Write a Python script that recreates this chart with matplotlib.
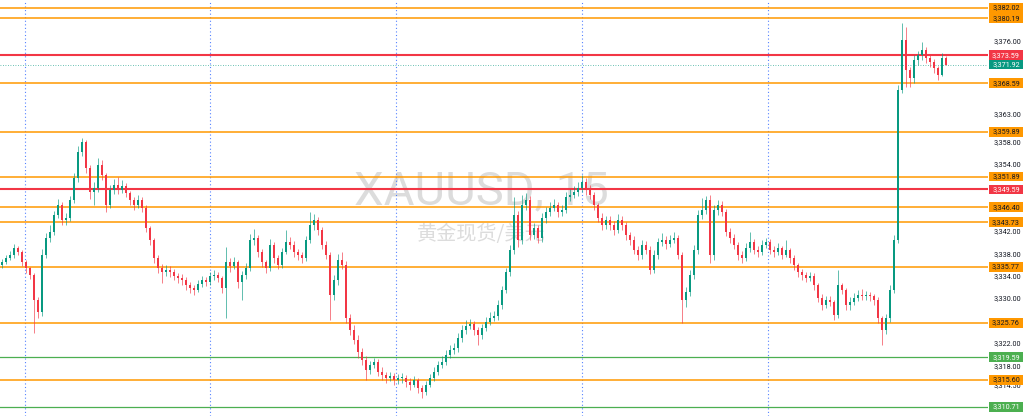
import matplotlib

matplotlib.use("Agg")
import matplotlib.pyplot as plt
import numpy as np
from matplotlib.patches import Rectangle

plt.rcParams["font.family"] = ["Roboto", "Noto Sans CJK SC", "DejaVu Sans"]

# 15-minute candles (opens follow the previous close)
first_open = 3336.1
closes = [
    3336.6, 3337.3, 3337.9, 3339.1, 3338.4, 3336.6, 3335.5, 3334.3, 3329.8, 3327.7,
    3337.9, 3340.9, 3342.0, 3345.0, 3346.8, 3344.1, 3344.5, 3347.7, 3351.6, 3356.3,
    3358.1, 3353.4, 3349.1, 3349.8, 3354.0, 3352.2, 3346.8, 3349.5, 3350.4, 3349.5,
    3350.2, 3348.9, 3347.7, 3346.8, 3347.7, 3346.3, 3342.7, 3340.6, 3337.3, 3335.5,
    3334.8, 3335.2, 3334.8, 3334.1, 3333.8, 3333.4, 3332.5, 3332.0, 3331.6, 3332.7,
    3333.4, 3333.1, 3334.1, 3334.3, 3333.8, 3332.0, 3336.6, 3335.9, 3336.6, 3333.1,
    3334.3, 3335.5, 3340.6, 3340.9, 3338.4, 3336.6, 3335.5, 3339.7, 3337.3, 3336.1,
    3338.4, 3340.2, 3339.7, 3338.4, 3337.9, 3337.3, 3340.6, 3343.2, 3344.1, 3342.3,
    3339.7, 3337.9, 3330.7, 3333.4, 3337.0, 3336.1, 3326.6, 3324.5, 3322.7, 3320.5,
    3319.1, 3317.3, 3318.2, 3318.7, 3317.0, 3316.4, 3315.9, 3316.3, 3315.5, 3315.9,
    3315.9, 3315.2, 3314.6, 3315.5, 3314.1, 3313.4, 3314.6, 3315.9, 3317.0, 3318.2,
    3318.7, 3320.0, 3320.9, 3321.2, 3323.0, 3324.5, 3325.2, 3325.5, 3324.5, 3323.6,
    3324.8, 3325.9, 3326.6, 3327.0, 3328.9, 3331.6, 3334.8, 3338.8, 3345.0, 3340.6,
    3346.8, 3347.7, 3341.4, 3342.7, 3340.9, 3344.5, 3345.6, 3346.3, 3346.8, 3345.6,
    3345.9, 3348.2, 3348.6, 3349.1, 3349.8, 3350.9, 3349.5, 3348.6, 3346.8, 3344.5,
    3343.2, 3344.1, 3343.2, 3342.3, 3344.1, 3343.2, 3341.4, 3340.6, 3338.8, 3337.9,
    3339.7, 3338.8, 3335.2, 3337.9, 3340.2, 3340.6, 3339.8, 3340.6, 3340.9, 3337.9,
    3329.8, 3331.3, 3334.3, 3338.8, 3345.0, 3345.9, 3347.7, 3337.9, 3345.9, 3346.8,
    3345.6, 3342.0, 3340.9, 3339.7, 3337.9, 3337.3, 3339.1, 3340.2, 3338.8, 3338.4,
    3339.7, 3340.2, 3338.8, 3338.4, 3339.1, 3337.9, 3338.8, 3337.3, 3336.1, 3334.8,
    3334.3, 3333.8, 3334.1, 3332.5, 3330.2, 3328.9, 3329.8, 3329.5, 3327.2, 3332.5,
    3331.6, 3328.9, 3329.5, 3330.2, 3330.7, 3330.5, 3330.7, 3330.5, 3329.8, 3326.6,
    3324.5, 3326.6, 3331.6, 3340.6, 3367.4, 3376.3, 3370.9, 3369.5, 3372.7, 3373.6,
    3374.5, 3373.1, 3372.4, 3371.3, 3370.1, 3373.1, 3371.9,
]
highs = [
    3337.2, 3337.9, 3338.6, 3339.9, 3339.5, 3338.7, 3337.0, 3335.8, 3334.6, 3330.3,
    3339.0, 3341.8, 3343.2, 3345.8, 3347.9, 3347.4, 3345.4, 3348.5, 3352.6, 3357.3,
    3358.8, 3358.4, 3354.0, 3351.0, 3355.3, 3354.8, 3352.6, 3350.4, 3351.5, 3351.8,
    3351.3, 3350.8, 3349.3, 3348.3, 3348.6, 3348.2, 3346.8, 3343.1, 3341.0, 3337.9,
    3336.3, 3336.0, 3335.9, 3335.3, 3334.7, 3334.5, 3333.9, 3333.0, 3332.6, 3333.4,
    3334.2, 3334.0, 3334.9, 3335.2, 3334.8, 3334.1, 3339.3, 3337.4, 3337.6, 3336.9,
    3335.0, 3336.4, 3341.6, 3342.5, 3341.4, 3338.9, 3336.9, 3340.8, 3340.2, 3337.8,
    3339.2, 3342.3, 3341.1, 3340.3, 3338.9, 3338.5, 3341.3, 3345.6, 3345.2, 3344.7,
    3342.8, 3340.3, 3338.5, 3334.3, 3338.0, 3338.4, 3336.8, 3327.4, 3325.4, 3323.5,
    3321.3, 3319.9, 3318.9, 3319.4, 3319.2, 3317.8, 3317.0, 3317.0, 3316.8, 3316.6,
    3316.7, 3316.5, 3315.9, 3316.3, 3315.9, 3314.6, 3315.4, 3316.6, 3317.8, 3319.0,
    3319.8, 3320.9, 3321.8, 3322.2, 3323.9, 3325.4, 3326.2, 3326.5, 3326.0, 3325.0,
    3325.6, 3326.8, 3327.6, 3327.9, 3329.8, 3332.4, 3335.6, 3339.6, 3348.2, 3345.7,
    3348.6, 3349.0, 3348.5, 3343.6, 3343.3, 3345.4, 3346.4, 3347.3, 3347.9, 3347.3,
    3346.9, 3349.1, 3349.7, 3350.2, 3351.0, 3352.2, 3351.6, 3350.3, 3349.2, 3347.2,
    3345.3, 3344.9, 3344.8, 3343.9, 3345.2, 3344.9, 3343.8, 3342.0, 3341.2, 3339.4,
    3340.6, 3340.4, 3339.4, 3338.8, 3341.0, 3341.8, 3341.2, 3341.5, 3342.0, 3341.4,
    3338.4, 3332.2, 3335.2, 3339.6, 3345.9, 3348.0, 3348.5, 3348.6, 3346.8, 3347.7,
    3347.6, 3346.1, 3342.7, 3341.6, 3340.2, 3338.6, 3340.0, 3341.9, 3340.8, 3339.5,
    3340.5, 3341.0, 3340.8, 3339.5, 3340.0, 3339.5, 3340.6, 3339.2, 3337.8, 3336.5,
    3335.3, 3334.9, 3334.9, 3334.6, 3332.9, 3330.9, 3330.5, 3330.6, 3329.9, 3335.2,
    3332.8, 3331.9, 3330.4, 3331.0, 3331.6, 3331.8, 3331.4, 3331.2, 3330.9, 3330.3,
    3327.0, 3327.4, 3332.5, 3341.4, 3368.3, 3379.3, 3378.6, 3371.5, 3373.6, 3374.4,
    3375.9, 3375.0, 3373.8, 3372.9, 3371.6, 3373.9, 3373.5,
]
lows = [
    3335.5, 3336.2, 3336.9, 3337.4, 3337.8, 3335.9, 3334.6, 3333.6, 3323.9, 3326.6,
    3327.0, 3337.3, 3340.2, 3341.4, 3344.5, 3343.3, 3343.2, 3344.0, 3347.2, 3351.0,
    3355.6, 3352.6, 3347.9, 3346.9, 3349.2, 3351.3, 3345.5, 3346.2, 3348.7, 3348.8,
    3348.9, 3348.2, 3346.9, 3346.0, 3346.2, 3345.5, 3341.9, 3339.6, 3336.4, 3334.6,
    3332.9, 3334.1, 3334.0, 3333.4, 3332.9, 3332.6, 3331.7, 3331.0, 3330.8, 3331.2,
    3332.2, 3332.3, 3332.6, 3333.4, 3333.0, 3331.1, 3326.6, 3334.8, 3335.3, 3332.0,
    3329.8, 3333.6, 3335.0, 3339.7, 3337.6, 3335.7, 3334.7, 3335.0, 3336.5, 3335.3,
    3335.5, 3338.0, 3338.9, 3337.6, 3336.9, 3336.5, 3336.8, 3340.0, 3342.4, 3341.5,
    3338.9, 3337.1, 3326.3, 3329.9, 3332.6, 3335.3, 3325.8, 3323.5, 3321.9, 3319.4,
    3318.2, 3315.5, 3316.6, 3317.6, 3316.3, 3315.6, 3315.0, 3315.3, 3314.7, 3314.8,
    3315.0, 3314.3, 3313.8, 3314.2, 3313.3, 3312.3, 3312.8, 3314.2, 3315.3, 3316.5,
    3317.6, 3318.3, 3319.4, 3320.1, 3320.6, 3322.3, 3323.8, 3324.6, 3323.6, 3321.8,
    3322.9, 3324.3, 3325.4, 3326.0, 3326.3, 3328.2, 3331.0, 3334.2, 3338.0, 3339.3,
    3339.8, 3345.9, 3340.6, 3340.8, 3340.0, 3340.2, 3343.6, 3344.9, 3345.7, 3344.6,
    3344.8, 3345.3, 3347.5, 3348.0, 3348.5, 3349.2, 3348.6, 3347.8, 3346.0, 3343.7,
    3342.4, 3342.6, 3342.4, 3341.5, 3341.8, 3342.3, 3340.6, 3339.6, 3338.0, 3337.0,
    3337.2, 3338.0, 3334.4, 3334.6, 3337.2, 3339.5, 3339.0, 3339.3, 3340.0, 3337.1,
    3325.7, 3328.6, 3330.5, 3333.5, 3338.0, 3344.3, 3345.2, 3336.5, 3337.0, 3345.0,
    3344.8, 3341.2, 3340.1, 3338.9, 3337.0, 3336.5, 3336.8, 3338.5, 3338.0, 3337.6,
    3337.8, 3339.1, 3338.0, 3337.5, 3337.8, 3337.1, 3337.5, 3336.5, 3335.2, 3334.0,
    3333.4, 3333.0, 3333.2, 3331.7, 3329.4, 3328.1, 3328.4, 3328.7, 3326.3, 3326.6,
    3330.9, 3328.1, 3328.0, 3328.9, 3329.6, 3329.8, 3329.9, 3329.7, 3328.9, 3325.8,
    3321.8, 3323.8, 3325.9, 3331.0, 3340.0, 3366.8, 3367.9, 3367.9, 3368.6, 3371.9,
    3372.8, 3372.2, 3371.5, 3370.4, 3369.1, 3369.8, 3371.8,
]

# session breaks (bar positions of the dotted verticals)
session_breaks = [5.75, 52.0, 98.5, 145.0, 191.5]

# drawn levels
orange_levels = [3382.02, 3380.19, 3368.59, 3359.89, 3351.89, 3346.40, 3343.73, 3335.77, 3325.76, 3315.60]
red_levels = [3373.59, 3349.59]
green_levels = [3319.59, 3310.71]
last_price = 3371.92

axis_ticks = [3376.0, 3363.0, 3358.0, 3354.0, 3350.0, 3342.0, 3338.0, 3334.0, 3330.0, 3322.0, 3318.0, 3314.5]

UP = "#089981"
DOWN = "#f23645"
ORANGE = "#ff9800"
GREEN = "#4caf50"
TEXT = "#131722"

Y_MIN, Y_MAX = 3309.1, 3383.45

closes = np.array(closes)
highs = np.array(highs)
lows = np.array(lows)
opens = np.r_[first_open, closes[:-1]]
idx = np.arange(len(closes))
colors = np.where(closes >= opens, UP, DOWN)

fig = plt.figure(figsize=(10.24, 4.16), dpi=100)
fig.patch.set_facecolor("white")
plot_w = 988 / 1024
ax = fig.add_axes([0, 0, plot_w, 1])
ax.set_xlim(-0.5, 246.5)
ax.set_ylim(Y_MIN, Y_MAX)
ax.axis("off")

# watermark
ax.text(0.487, 0.54, "XAUUSD, 15", transform=ax.transAxes, ha="center", va="center",
        fontsize=34, color="#dcdcdc", zorder=0)
ax.text(0.487, 0.437, "黄金现货/美元", transform=ax.transAxes, ha="center", va="center",
        fontsize=14.5, color="#dcdcdc", zorder=0, family=["Noto Sans CJK SC", "DejaVu Sans"])

for xb in session_breaks:
    ax.axvline(xb, color="#2962ff", linewidth=0.8, linestyle=(0, (1, 2.2)), alpha=0.8, zorder=1)

for lvl in orange_levels:
    ax.axhline(lvl, color=ORANGE, linewidth=1.1, zorder=2)
for lvl in red_levels:
    ax.axhline(lvl, color=DOWN, linewidth=1.5, zorder=2)
for lvl in green_levels:
    ax.axhline(lvl, color=GREEN, linewidth=0.9, zorder=2)
ax.axhline(last_price, color=UP, linewidth=0.6, linestyle=(0, (1, 2)), alpha=0.8, zorder=2)

# candles
ax.vlines(idx, lows, highs, colors=colors, linewidth=0.6, alpha=0.75, zorder=3)
body = np.maximum(np.abs(closes - opens), 0.15)
ax.bar(idx, body, bottom=np.minimum(opens, closes), width=0.6, color=colors,
       linewidth=0, zorder=4)

# price scale
axr = fig.add_axes([plot_w, 0, 1 - plot_w, 1])
axr.set_xlim(0, 1)
axr.set_ylim(Y_MIN, Y_MAX)
axr.axis("off")

for t in axis_ticks:
    axr.text(0.93, t, f"{t:,.2f}", ha="right", va="center", fontsize=5.2, color=TEXT, zorder=1)

box_h = 1.75


def price_label(price, face, fg):
    axr.add_patch(Rectangle((0.03, price - box_h / 2), 0.94, box_h, facecolor=face,
                            edgecolor="none", zorder=5))
    axr.text(0.5, price, f"{price:,.2f}", ha="center", va="center", fontsize=5.2,
             color=fg, zorder=6)


for lvl in orange_levels:
    price_label(lvl, ORANGE, TEXT)
for lvl in green_levels:
    price_label(lvl, GREEN, "white")
for lvl in red_levels:
    price_label(lvl, DOWN, "white")
price_label(last_price, UP, "white")

fig.savefig("out.png", dpi=100, facecolor="white")
